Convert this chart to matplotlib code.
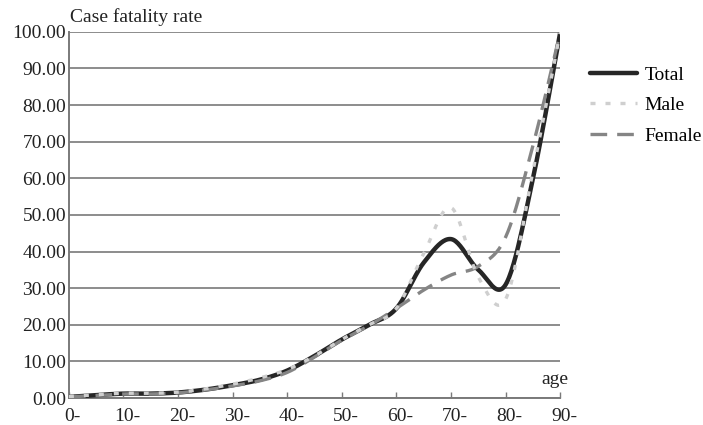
import numpy as np
import matplotlib.pyplot as plt
from matplotlib.transforms import ScaledTranslation

# age groups (start of each 5-year band) and case fatality rate (%)
ages = [0, 5, 10, 15, 20, 25, 30, 35, 40, 45, 50, 55, 60, 65, 70, 75, 80, 85, 90]
total = [0.3, 0.8, 1.2, 1.2, 1.5, 2.3, 3.5, 5.0, 7.5, 11.5, 16.0, 20.0, 24.5,
         37.0, 43.4, 35.0, 31.0, 60.0, 100.0]
male = [0.4, 0.9, 1.3, 1.3, 1.6, 2.5, 3.8, 5.5, 7.8, 11.5, 16.0, 20.0, 24.5,
        39.5, 52.0, 33.0, 27.0, 62.0, 100.0]
female = [0.3, 0.7, 1.1, 1.1, 1.4, 2.2, 3.3, 4.7, 7.0, 11.2, 15.8, 19.8, 24.5,
          29.5, 33.6, 36.0, 44.0, 69.0, 100.0]

xticks = [0, 10, 20, 30, 40, 50, 60, 70, 80, 90]
xlabels = ["0-", "10-", "20-", "30-", "40-", "50-", "60-", "70-", "80-", "90-"]
yticks = [0, 10, 20, 30, 40, 50, 60, 70, 80, 90, 100]


def smooth(x, y, n=24):
    """Catmull-Rom curve through the points, like a spreadsheet 'smoothed line'."""
    x = np.asarray(x, float)
    y = np.asarray(y, float)
    px = np.concatenate([[x[0]], x, [x[-1]]])
    py = np.concatenate([[y[0]], y, [y[-1]]])
    xs, ys = [], []
    t = np.linspace(0, 1, n, endpoint=False)
    for i in range(1, len(px) - 2):
        for arr, out in ((px, xs), (py, ys)):
            p0, p1, p2, p3 = arr[i - 1], arr[i], arr[i + 1], arr[i + 2]
            m1 = (p2 - p0) / 2
            m2 = (p3 - p1) / 2
            h00 = 2 * t**3 - 3 * t**2 + 1
            h10 = t**3 - 2 * t**2 + t
            h01 = -2 * t**3 + 3 * t**2
            h11 = t**3 - t**2
            out.extend(h00 * p1 + h10 * m1 + h01 * p2 + h11 * m2)
    xs.append(x[-1])
    ys.append(y[-1])
    return np.array(xs), np.array(ys)


plt.rcParams['font.family'] = ['Liberation Serif', 'DejaVu Serif']
FS = 14

fig = plt.figure(figsize=(7.03, 4.25), dpi=100)
ax = fig.add_axes([0.098, 0.0635, 0.699, 0.8615])

sx, sy = smooth(ages, total)
ax.plot(sx, sy, color="#262626", lw=3.2, label="Total", zorder=3,
        solid_capstyle="round")
sx, sy = smooth(ages, female)
ax.plot(sx, sy, color="#858585", lw=2.4, dashes=(5, 3), label="Female", zorder=4)
sx, sy = smooth(ages, male)
ax.plot(sx, sy, color="#cfcfcf", lw=2.4, dashes=(1.5, 3), label="Male", zorder=5)

ax.set_xlim(0, 90)
ax.set_ylim(0, 100)
ax.set_yticks(yticks)
ax.set_yticklabels([f"{v:.2f}" for v in yticks])
ax.set_xticks(xticks)
ax.set_xticklabels(xlabels)
ax.tick_params(axis="y", length=0, pad=2, labelsize=FS, colors="#222222")
ax.tick_params(axis="x", direction="in", length=4, width=1, color="#7a7a7a",
               pad=7, labelsize=FS, labelcolor="#222222")
# labels sit slightly right of their tick marks in the original
shift = ScaledTranslation(4 / 100, 0, fig.dpi_scale_trans)
for lab in ax.get_xticklabels():
    lab.set_transform(lab.get_transform() + shift)

ax.grid(axis="y", color="#6e6e6e", lw=1.1)
ax.set_axisbelow(True)
for side in ("top", "right"):
    ax.spines[side].set_visible(False)
for side in ("left", "bottom"):
    ax.spines[side].set_color("#7a7a7a")
    ax.spines[side].set_linewidth(1.4)

ax.text(0.003, 1.015, "Case fatality rate", transform=ax.transAxes,
        ha="left", va="bottom", fontsize=FS, color="#222222")
ax.text(0.988, 0.038, "age", transform=ax.transAxes, ha="center",
        va="baseline", fontsize=FS, color="#222222")

handles, labels = ax.get_legend_handles_labels()
order = [labels.index(k) for k in ("Total", "Male", "Female")]
ax.legend([handles[i] for i in order], [labels[i] for i in order],
          loc="upper left", bbox_to_anchor=(1.045, 0.928), frameon=False,
          fontsize=FS, handlelength=2.4, labelspacing=0.66, handletextpad=0.4,
          borderaxespad=0)

fig.savefig("out.png", dpi=100)
